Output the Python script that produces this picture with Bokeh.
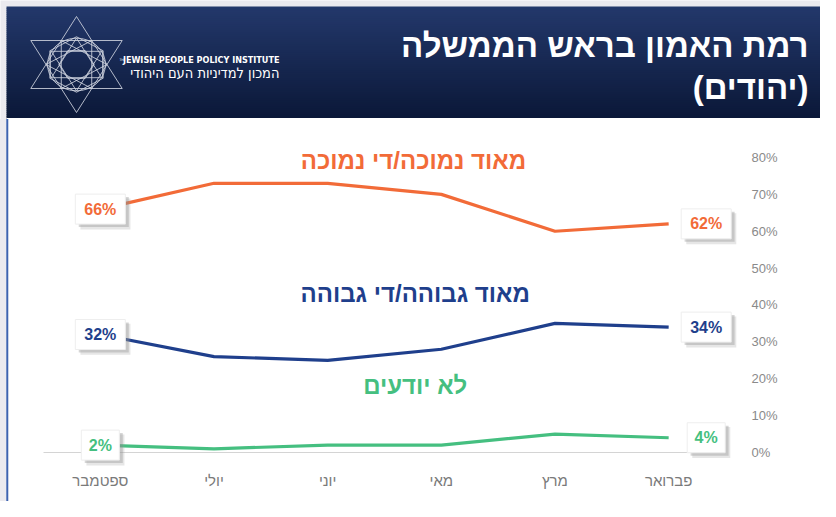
from bokeh.plotting import figure
from bokeh.models import Range1d, FactorRange, FixedTicker, PrintfTickFormatter, ColumnDataSource
from bokeh.transform import dodge
from bokeh.layouts import column
from bokeh.embed import file_html
from bokeh.resources import INLINE
from bokeh.core.properties import value
import math

# ---------------- data ----------------
months = ["ספטמבר", "יולי", "יוני", "מאי", "מרץ", "פברואר"]
low_trust = [66, 73, 73, 70, 60, 62]
high_trust = [32, 26, 25, 28, 35, 34]
dont_know = [2, 1, 2, 2, 5, 4]
series_names = ["מאוד נמוכה/די נמוכה", "מאוד גבוהה/די גבוהה", "לא יודעים"]
y_ticks = [0, 10, 20, 30, 40, 50, 60, 70, 80]
title_line1 = "רמת האמון בראש הממשלה"
title_line2 = "(יהודים)"
logo_en = "JEWISH PEOPLE POLICY INSTITUTE"
logo_he = "המכון למדיניות העם היהודי"

ORANGE = "#F26B38"
NAVY = "#1F3F8C"
GREEN = "#45BF80"
colors = [ORANGE, NAVY, GREEN]
series = [low_trust, high_trust, dont_know]

HE_FONT = value("Liberation Sans")
W = 820
HH = 119
CH = 382

# ---------------- header ----------------
header = figure(width=W, height=HH, x_range=Range1d(0, W), y_range=Range1d(HH, 0),
                output_backend="svg", toolbar_location=None,
                x_axis_location=None, y_axis_location=None, min_border=0)
header.frame_align = False
header.grid.visible = False
header.outline_line_color = None
header.background_fill_color = "#ebeaef"
header.border_fill_color = "#ebeaef"

def lerp(c1, c2, t):
    a = [int(c1[i:i + 2], 16) for i in (1, 3, 5)]
    b = [int(c2[i:i + 2], 16) for i in (1, 3, 5)]
    return "#%02x%02x%02x" % tuple(int(round(a[k] + (b[k] - a[k]) * t)) for k in range(3))

top0, bot0 = 6, 118
nb = 56
bh = (bot0 - top0) / nb
header.quad(left=[6] * nb, right=[W + 20] * nb,
            top=[top0 + i * bh for i in range(nb)], bottom=[top0 + (i + 1) * bh + 0.5 for i in range(nb)],
            fill_color=[lerp("#23386b", "#0b1838", i / (nb - 1)) for i in range(nb)],
            line_color=None)
header.quad(left=[6], right=[W + 20], top=[117.5], bottom=[HH + 1], fill_color="white", line_color=None)

# logo star
cx, cy, R, sx = 76, 64, 48, 1.1
def poly(r, start, n):
    xs, ys = [], []
    for k in range(n + 1):
        a = math.radians(start + 360 / n * k)
        xs.append(cx + sx * r * math.cos(a))
        ys.append(cy - r * math.sin(a))
    return xs, ys
star_xs, star_ys = [], []
ri = R / math.sqrt(3)
for shape in [poly(R, 90, 3), poly(R, 270, 3), poly(ri, 0, 3), poly(ri, 180, 3),
              poly(ri, 30, 6), poly(R * 0.55, 90, 3), poly(R * 0.55, 270, 3), poly(R / 3, 0, 6),
              poly(ri * 0.95, 0, 36)]:
    star_xs.append(shape[0]); star_ys.append(shape[1])
# vertical lines joining the inner hexagon corners
for sgn in (-1, 1):
    a1, a2 = math.radians(90 + sgn * 60), math.radians(270 - sgn * 60)
    star_xs.append([cx + sx * ri * math.cos(a1), cx + sx * ri * math.cos(a2)])
    star_ys.append([cy - ri * math.sin(a1), cy - ri * math.sin(a2)])
header.multi_line(xs=star_xs, ys=star_ys, line_color="#cfd3df", line_width=1, line_alpha=0.85)

header.text(x=[119], y=[59], text=["THE"], text_font_size="3px", text_color="white",
            text_baseline="middle", text_align="left", text_font=value("DejaVu Sans"))
header.text(x=[279], y=[59], text=[logo_en], text_font_size="9px", text_font_style="bold",
            text_color="white", text_baseline="middle", text_align="right",
            text_font=value("DejaVu Sans Condensed"))
header.text(x=[279], y=[72], text=[logo_he], text_font_size="14.5px",
            text_color="white", text_baseline="middle", text_align="right",
            text_font=value("DejaVu Sans Condensed"))

header.text(x=[808], y=[45], text=[title_line1], text_font_size="33px", text_font_style="bold",
            text_color="white", text_baseline="middle", text_align="right", text_font=HE_FONT)
header.text(x=[808], y=[87], text=[title_line2], text_font_size="33px", text_font_style="bold",
            text_color="white", text_baseline="middle", text_align="right", text_font=HE_FONT)

# ---------------- chart ----------------
p = figure(width=W, height=CH, x_range=FactorRange(factors=months), y_range=Range1d(0, 87.32),
           y_axis_location="right", output_backend="svg", toolbar_location=None,
           min_border_left=43, min_border_right=95, min_border_top=11, min_border_bottom=49)
p.frame_align = False
p.grid.visible = False
p.outline_line_color = None
p.background_fill_color = "white"
p.border_fill_color = "white"

p.yaxis.ticker = FixedTicker(ticks=y_ticks)
p.yaxis.formatter = PrintfTickFormatter(format="%d%%")
p.yaxis.axis_line_color = None
p.yaxis.major_tick_line_color = None
p.yaxis.minor_tick_line_color = None
p.yaxis.major_label_standoff = 20
p.yaxis.major_label_text_font_size = "13px"
p.yaxis.major_label_text_color = "#8a8a8a"
p.yaxis.major_label_text_font = "Liberation Sans"

p.xaxis.axis_line_color = "#d4d4d4"
p.xaxis.axis_line_width = 1
p.xaxis.major_tick_line_color = None
p.xaxis.minor_tick_line_color = None
p.xaxis.major_label_standoff = 13
p.xaxis.major_label_text_font_size = "15px"
p.xaxis.major_label_text_color = "#7a7a7a"
p.xaxis.major_label_text_font = "Liberation Sans"

for vals, col in zip(series, colors):
    src = ColumnDataSource(dict(x=months, y=vals))
    p.line("x", "y", source=src, line_color=col, line_width=3.2, line_join="round")

# end labels
for idx, off in [(0, 0.0), (-1, 0.33)]:
    vals = [s[idx] for s in series]
    labels = ["%d%%" % v for v in vals]
    src = ColumnDataSource(dict(x=[months[idx]] * 3, y=vals, label=labels, color=colors,
                                w=[14 + 12 * len(l) for l in labels]))
    r = p.rect(x=dodge("x", off + 0.045, range=p.x_range), y=dodge("y", -1.3), width="w", height=31,
               width_units="screen", height_units="screen", source=src,
               fill_color="#9a9a9a", fill_alpha=0.25, line_color=None)
    r.level = "overlay"
    r = p.rect(x=dodge("x", off + 0.03, range=p.x_range), y=dodge("y", -0.8), width="w", height=30,
               width_units="screen", height_units="screen", source=src,
               fill_color="#8a8a8a", fill_alpha=0.35, line_color=None)
    r.level = "overlay"
    r = p.rect(x=dodge("x", off, range=p.x_range), y="y", width="w", height=30,
               width_units="screen", height_units="screen", source=src,
               fill_color="white", line_color="#eeeeee", line_width=1)
    r.level = "overlay"
    t = p.text(x=dodge("x", off, range=p.x_range), y="y", text="label", source=src,
               text_color="color", text_font_size="16px", text_font_style="bold",
               text_align="center", text_baseline="middle", text_font=value("Liberation Sans"))
    t.level = "overlay"

# series titles
tsrc = ColumnDataSource(dict(x=[3.255, 3.27, 3.27], y=[79.2, 43.1, 18.2], text=series_names, color=colors))
p.text(x="x", y="y", text="text", source=tsrc, text_color="color", text_font_size="24px",
       text_font_style="bold", text_align="center", text_baseline="middle", text_font=HE_FONT)

# page frame (left grey margin and blue edge)
edge = p.quad(left=-0.9, right=0.5 + (6 - 100) / 113.6, top=200, bottom=-200,
              fill_color="#ebeaef", line_color=None)
edge.level = "overlay"
edge2 = p.quad(left=0.5 + (6 - 100) / 113.6, right=0.5 + (8 - 100) / 113.6, top=200, bottom=-200,
               fill_color="#3d63b0", line_color=None)
edge2.level = "overlay"

layout = column(header, p, spacing=0)
open("out.html", "w").write(file_html(layout, INLINE))
